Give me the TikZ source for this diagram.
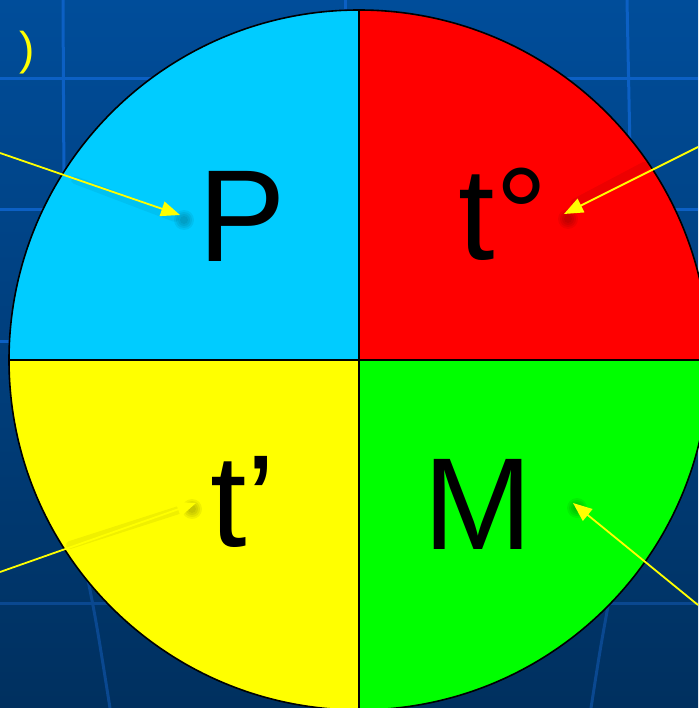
\documentclass[tikz,border=0pt]{standalone}
\usepackage{fontspec}
\setmainfont{Liberation Sans}
\usetikzlibrary{arrows.meta}
\definecolor{bgtop}{HTML}{004D9A}
\definecolor{bgbot}{HTML}{00305F}
\definecolor{gridc}{HTML}{0C60C4}
\definecolor{gridd}{HTML}{0A4890}
\definecolor{cyanq}{HTML}{00CCFF}
\definecolor{redq}{HTML}{FF0000}
\definecolor{yelq}{HTML}{FFFF00}
\definecolor{grnq}{HTML}{00FF00}
\tikzset{
  gridline/.style={draw=gridc, line width=3pt},
  gridlow/.style={draw=gridd, line width=3pt},
  pointer/.style={draw=yelq, line width=1.8pt, -{Triangle[length=19pt,width=15pt]}},
  bigletter/.style={font=\fontsize{131}{131}\selectfont, inner sep=0pt, text=black},
  divider/.style={draw=black, line width=1.8pt},
}
\begin{document}
\begin{tikzpicture}[x=1pt,y=-1pt]
\useasboundingbox (0,0) rectangle (698,708);
% background
\shade[top color=bgtop, bottom color=bgbot] (0,0) rectangle (698,708);
% grid
\draw[gridline] (0,79) -- (698,79);
\draw[gridline] (0,210) -- (698,210);
\draw[gridline] (0,341) -- (698,341);
\draw[gridlow] (0,603) -- (698,603);
\draw[gridline] (63,0) -- (64,190);
\draw[gridline] (345,0) -- (345,20);
\draw[gridline] (627,0) -- (631,200);
\draw[gridlow] (86,570) .. controls (96,620) .. (110,708);
\draw[gridlow] (610,595) .. controls (600,650) .. (591,708);
% top-left partial label
\node[text=yelq, font=\fontsize{46}{46}\selectfont, inner sep=0pt] (paren) at (27,53) {)};
% circle quadrants
\coordinate (O) at (359,360);
\fill[cyanq] (O) -- (9,360) arc[start angle=180, end angle=270, radius=350] -- cycle;
\fill[redq] (O) -- (359,10) arc[start angle=270, end angle=360, radius=350] -- cycle;
\fill[yelq] (O) -- (9,360) arc[start angle=180, end angle=90, radius=350] -- cycle;
\fill[grnq] (O) -- (709,360) arc[start angle=0, end angle=90, radius=350] -- cycle;
\draw[black, line width=1.6pt] (O) circle[radius=350];
\draw[divider] (359,10) -- (359,710);
\draw[divider] (9,360) -- (709,360);
% letters
\node[bigletter] (P) at (242,216) {P};
\node[bigletter] (T) at (503,214) {t°};
\node[bigletter] (Tp) at (243,502) {t’};
\node[bigletter] (M) at (478,504) {M};
% shadows at arrow tips and along lines
\foreach \x/\y in {184/220, 568/219, 192/509, 577/508}{
  \foreach \r in {4,6,8,10}{
    \fill[black, opacity=0.06] (\x,\y) circle[radius=\r];
  }
}
\draw[black, opacity=0.07, line width=9pt, line cap=round] (645,166) -- (575,203);
\draw[black, opacity=0.06, line width=8pt, line cap=round] (70,545) -- (185,508);
\draw[black, opacity=0.05, line width=8pt, line cap=round] (75,180) -- (175,218);
% pointers
\coordinate (pS) at (0,153);
\coordinate (pE) at (180,215);
\coordinate (tS) at (698,147);
\coordinate (tE) at (564,214);
\coordinate (qS) at (0,572);
\coordinate (qE) at (196,503);
\coordinate (mS) at (698,605);
\coordinate (mE) at (573,503);
\draw[pointer] (pS) -- (pE);
\draw[pointer] (tS) -- (tE);
\draw[pointer] (qS) -- (qE);
\draw[pointer] (mS) -- (mE);
\end{tikzpicture}
\end{document}
